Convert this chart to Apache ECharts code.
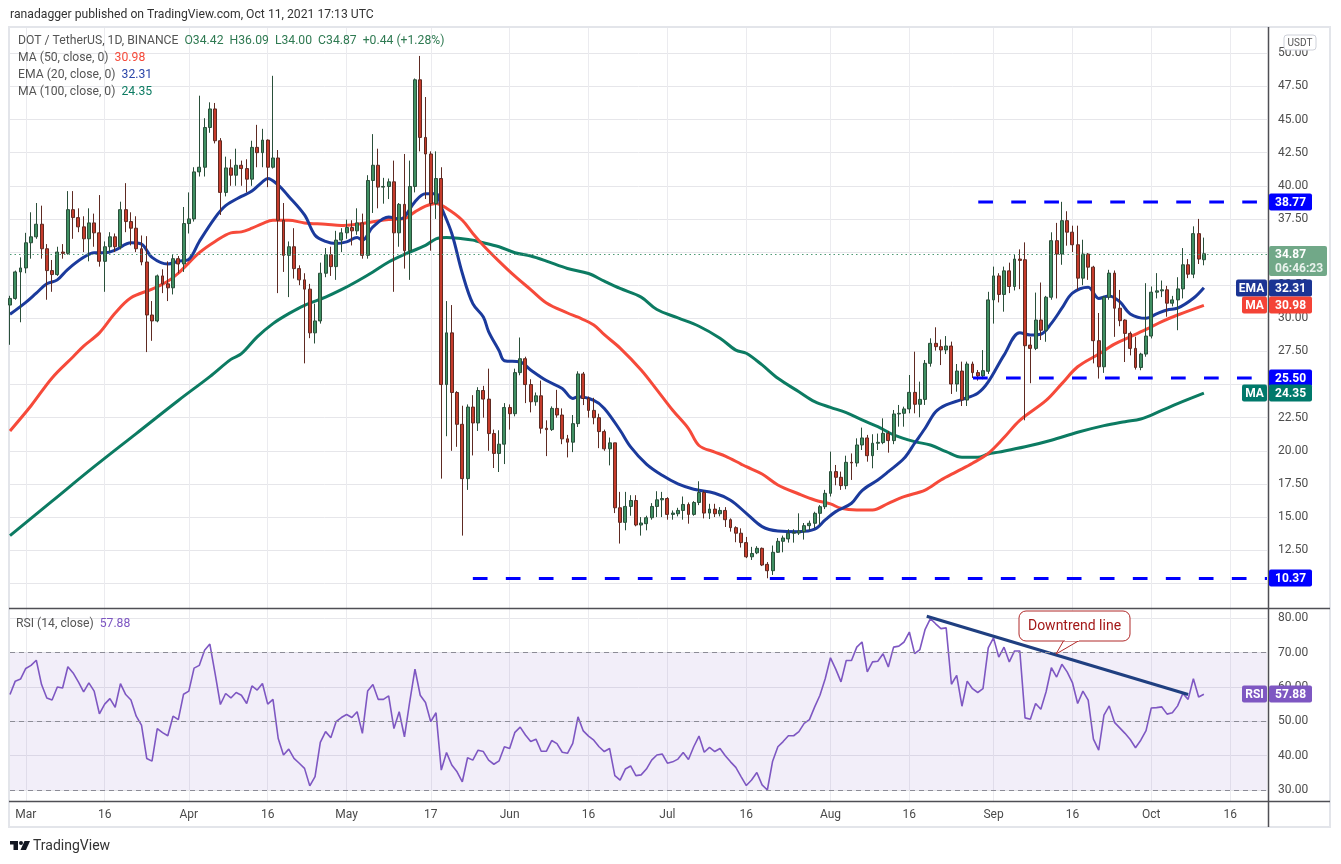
<!DOCTYPE html>
<html>
<head>
<meta charset="utf-8">
<title>DOT / TetherUS</title>
<script src="https://cdn.jsdelivr.net/npm/echarts@6/dist/echarts.min.js"></script>
<style>
  html, body { margin: 0; padding: 0; background: #ffffff; }
  #chart { width: 1341px; height: 864px; }
</style>
</head>
<body>
<div id="chart"></div>
<script>
'use strict';

// day categories, Feb 26 .. Oct 23 2021
const startDay = Date.UTC(2021, 1, 26)
const dates = Array.from({ length: 240 }, (_, i) => new Date(startDay + i * 864e5).toISOString().slice(0, 10))

const tickDates = ['2021-03-01', '2021-03-16', '2021-04-01', '2021-04-16', '2021-05-01', '2021-05-17', '2021-06-01', '2021-06-16',
    '2021-07-01', '2021-07-16', '2021-08-01', '2021-08-16', '2021-09-01', '2021-09-16', '2021-10-01', '2021-10-16']
const tickLabels = ['Mar', '16', 'Apr', '16', 'May', '17', 'Jun', '16', 'Jul', '16', 'Aug', '16', 'Sep', '16', 'Oct', '16']
const priceTicks = [10, 12.5, 15, 17.5, 20, 22.5, 25, 27.5, 30, 32.5, 35, 37.5, 40, 42.5, 45, 47.5, 50]
const rsiTicks = [30, 40, 50, 60, 70, 80]

// [open, close, low, high] per day from Feb 26
const ohlc = [
    [31.0, 31.5, 28.0, 31.7], [31.5, 33.5, 31.4, 33.6], [33.5, 33.8, 29.7, 34.6], [33.8, 35.7, 33.4, 36.45],
    [35.7, 36.15, 34.5, 38.0], [36.15, 37.1, 36.0, 38.7], [37.1, 35.25, 34.5, 38.5], [35.25, 33.6, 31.4, 35.6],
    [33.6, 33.3, 32.0, 34.4], [33.3, 35.0, 33.2, 35.4], [35.0, 34.9, 34.5, 35.6], [34.9, 38.2, 34.8, 39.6],
    [38.2, 37.6, 36.0, 39.6], [37.6, 36.9, 36.5, 38.3], [36.9, 36.0, 35.0, 37.7], [36.0, 37.2, 34.3, 38.3],
    [37.2, 36.45, 35.4, 37.9], [36.45, 34.3, 33.9, 39.3], [34.3, 35.4, 32.0, 35.8], [35.4, 36.15, 35.0, 36.5],
    [36.15, 35.4, 35.0, 36.4], [35.4, 38.2, 35.2, 38.8], [38.2, 37.3, 36.5, 40.2], [37.3, 36.8, 35.5, 38.0],
    [36.8, 35.25, 35.0, 37.7], [35.25, 34.25, 34.0, 36.25], [34.25, 30.25, 27.45, 36.2], [30.25, 29.8, 28.3, 31.3],
    [29.8, 33.2, 29.7, 33.3], [33.2, 32.6, 31.9, 33.7], [32.6, 32.3, 31.3, 34.3], [32.3, 34.5, 31.8, 34.8],
    [34.5, 34.1, 33.4, 34.7], [34.1, 37.15, 33.5, 38.4], [37.15, 37.5, 36.4, 39.5], [37.5, 41.05, 37.3, 41.4],
    [41.05, 41.4, 40.7, 46.8], [41.4, 44.4, 40.7, 45.1], [44.4, 45.8, 44.0, 46.3], [45.8, 43.4, 43.2, 46.25],
    [43.4, 39.5, 37.8, 43.6], [39.5, 41.35, 39.2, 42.2], [41.35, 40.8, 40.0, 42.0], [40.8, 41.55, 40.0, 42.8],
    [41.55, 41.3, 40.0, 41.9], [41.3, 40.5, 39.5, 42.0], [40.5, 42.9, 40.0, 43.4], [42.9, 42.5, 41.4, 44.6],
    [42.5, 43.45, 41.4, 44.3], [43.45, 41.4, 39.9, 43.5], [41.4, 42.1, 41.3, 48.3], [42.1, 37.4, 31.9, 42.7],
    [37.4, 34.75, 33.5, 38.7], [34.75, 35.4, 31.6, 35.8], [35.4, 33.75, 33.0, 36.8], [33.75, 32.9, 32.5, 34.0],
    [32.9, 32.2, 26.6, 33.4], [32.2, 28.9, 28.5, 32.6], [28.9, 29.8, 28.1, 31.1], [29.8, 33.4, 29.6, 34.2],
    [33.4, 34.8, 33.1, 35.3], [34.8, 33.9, 33.2, 35.4], [33.9, 35.9, 32.9, 36.6], [35.9, 36.45, 35.0, 36.8],
    [36.45, 36.85, 36.0, 37.45], [36.85, 36.6, 35.5, 37.4], [36.6, 37.2, 36.3, 38.3], [37.2, 34.75, 34.5, 37.9],
    [34.75, 40.4, 34.5, 40.8], [40.4, 41.55, 37.95, 43.9], [41.55, 39.9, 38.3, 42.8], [39.9, 39.95, 38.65, 40.6],
    [39.95, 40.3, 39.0, 40.55], [40.3, 36.45, 32.0, 41.9], [36.45, 38.6, 35.4, 38.7], [38.6, 35.1, 33.75, 42.4],
    [35.1, 39.95, 32.9, 41.9], [39.95, 48.0, 39.5, 48.1], [48.0, 43.65, 42.6, 49.8], [43.65, 42.4, 39.0, 46.7],
    [42.4, 38.65, 35.1, 42.6], [38.65, 40.55, 37.5, 42.6], [40.55, 25.0, 17.9, 41.4], [25.0, 28.9, 21.1, 31.3],
    [28.9, 24.4, 20.0, 31.0], [24.4, 22.0, 20.3, 24.5], [22.0, 17.9, 13.6, 23.4], [17.9, 23.3, 17.05, 23.5],
    [23.3, 22.1, 19.65, 24.2], [22.1, 24.55, 21.5, 24.8], [24.55, 23.9, 22.5, 24.9], [23.9, 21.3, 20.0, 26.2],
    [21.3, 19.8, 18.7, 21.6], [19.8, 20.5, 18.4, 21.55], [20.5, 23.27, 19.0, 23.6], [23.27, 22.8, 21.6, 23.5],
    [22.8, 25.9, 22.6, 26.2], [25.9, 26.95, 25.7, 28.55], [26.95, 25.0, 23.6, 27.1], [25.0, 23.7, 22.9, 25.4],
    [23.7, 24.15, 23.4, 24.4], [24.15, 21.7, 21.3, 25.3], [21.7, 21.6, 19.6, 22.3], [21.6, 23.2, 21.5, 23.35],
    [23.2, 22.7, 22.5, 24.6], [22.7, 20.9, 20.5, 23.2], [20.9, 20.65, 19.5, 21.2], [20.65, 22.05, 19.9, 22.7],
    [22.05, 25.8, 21.8, 26.0], [25.8, 23.95, 23.45, 25.95], [23.95, 23.05, 22.5, 24.1], [23.05, 22.5, 22.0, 24.0],
    [22.5, 21.45, 20.2, 22.8], [21.45, 20.15, 20.0, 21.6], [20.15, 20.6, 18.9, 21.0], [20.6, 15.7, 15.3, 20.6],
    [15.7, 14.6, 13.0, 16.9], [14.6, 15.8, 14.0, 16.9], [15.8, 16.25, 15.1, 16.65], [16.25, 14.4, 14.3, 16.65],
    [14.4, 14.55, 13.6, 15.0], [14.5, 14.95, 14.0, 15.1], [14.95, 15.8, 14.8, 16.05], [15.8, 16.3, 15.0, 16.95],
    [16.3, 16.4, 15.0, 16.9], [16.4, 15.2, 14.8, 16.5], [15.2, 15.3, 14.8, 15.5], [15.25, 15.5, 15.05, 15.7],
    [15.5, 15.95, 14.8, 16.55], [15.95, 15.2, 14.5, 16.1], [15.2, 16.1, 15.1, 16.2], [16.1, 16.85, 15.9, 17.7],
    [16.85, 15.3, 14.9, 17.0], [15.3, 15.6, 14.85, 16.0], [15.6, 15.25, 15.0, 16.0], [15.25, 15.5, 15.05, 15.75],
    [15.5, 14.8, 14.25, 15.75], [14.8, 14.2, 13.9, 14.9], [14.2, 13.78, 13.1, 14.3], [13.78, 13.07, 12.7, 14.15],
    [13.07, 12.0, 11.9, 13.5], [12.0, 12.25, 11.76, 12.75], [12.3, 12.64, 12.2, 12.8], [12.64, 11.38, 11.3, 12.7],
    [11.43, 10.95, 10.38, 11.6], [10.95, 12.34, 10.63, 12.85], [12.34, 13.17, 12.3, 13.42], [13.17, 13.42, 12.34, 13.6],
    [13.35, 13.78, 13.07, 14.08], [13.78, 13.83, 13.07, 14.08], [13.8, 13.95, 13.65, 15.28], [13.9, 14.35, 13.3, 14.55],
    [14.35, 14.53, 14.0, 14.73], [14.53, 15.28, 14.15, 15.4], [15.28, 15.78, 14.4, 15.9], [15.78, 16.79, 15.6, 17.05],
    [16.79, 18.43, 16.55, 19.94], [18.43, 18.0, 17.4, 18.93], [18.0, 17.37, 17.05, 18.43], [17.37, 19.13, 17.1, 19.63],
    [19.13, 19.08, 17.8, 19.8], [19.08, 20.44, 18.8, 20.94], [20.44, 20.97, 20.06, 21.75], [20.97, 19.63, 19.18, 21.2],
    [19.63, 20.57, 18.68, 21.25], [20.57, 20.64, 20.06, 21.3], [20.62, 21.32, 20.5, 22.45], [21.32, 20.77, 19.86, 21.5],
    [20.77, 22.78, 20.5, 23.08], [22.78, 22.83, 21.82, 23.46], [22.83, 23.16, 21.82, 23.33], [23.16, 24.41, 22.83, 25.72],
    [24.41, 23.51, 22.83, 27.48], [23.51, 23.88, 22.53, 25.22], [23.88, 26.6, 23.46, 26.85], [26.6, 28.11, 26.35, 28.49],
    [28.11, 27.86, 27.56, 29.32], [27.86, 27.61, 26.47, 28.4], [27.61, 27.91, 27.3, 28.66], [27.91, 25.04, 24.29, 28.24],
    [25.04, 26.02, 24.46, 26.55], [26.02, 23.83, 23.38, 26.73], [23.83, 26.55, 23.38, 26.73], [26.55, 25.9, 25.5, 26.73],
    [25.9, 25.65, 25.3, 26.1], [25.65, 26.05, 25.4, 27.6], [26.0, 31.39, 25.8, 32.0], [31.39, 33.2, 29.6, 33.9],
    [33.2, 31.8, 31.2, 33.4], [31.8, 33.58, 30.5, 33.9], [33.58, 32.4, 31.9, 34.2], [32.4, 34.47, 32.1, 34.8],
    [34.47, 34.37, 32.2, 35.2], [34.42, 27.93, 22.3, 35.73], [27.98, 27.73, 25.1, 28.6], [27.73, 29.87, 27.6, 31.94],
    [29.87, 29.1, 28.36, 32.7], [29.1, 31.59, 28.23, 31.69], [31.59, 35.86, 31.4, 36.49], [35.86, 34.85, 31.5, 37.2],
    [34.85, 37.37, 34.04, 38.79], [37.37, 36.5, 35.48, 38.08], [36.5, 35.55, 35.0, 36.99], [35.55, 33.03, 32.14, 36.99],
    [33.03, 34.85, 32.5, 35.93], [34.85, 33.86, 32.9, 34.92], [33.86, 28.31, 26.6, 33.96], [28.31, 26.34, 25.45, 30.4],
    [26.34, 31.59, 25.88, 31.69], [31.59, 33.41, 31.4, 33.66], [33.41, 30.76, 28.6, 33.61], [30.76, 29.82, 29.4, 32.14],
    [29.87, 28.86, 26.7, 29.92], [28.86, 27.73, 27.2, 29.0], [27.73, 26.29, 26.13, 28.61], [26.29, 27.3, 26.08, 27.4],
    [27.3, 28.66, 27.1, 32.65], [28.66, 31.97, 28.48, 32.4], [31.97, 32.07, 31.5, 33.41], [32.07, 32.15, 31.6, 32.85],
    [32.15, 31.14, 30.12, 32.45], [31.14, 31.39, 30.9, 31.69], [31.39, 32.22, 29.1, 33.1], [32.22, 34.04, 31.5, 35.3],
    [34.04, 33.33, 33.03, 34.47], [33.33, 36.39, 33.03, 36.94], [36.39, 34.47, 34.1, 37.5], [34.42, 34.87, 34.0, 36.09]
]

// moving averages: [day index, value]
const ema20 = [[0, 30.3], [3, 31.2], [5, 31.9], [7, 32.6], [9, 32.9], [11, 33.7], [14, 34.6], [16, 34.95], [18, 34.95],
    [20, 35.15], [23, 35.7], [25, 35.6], [27, 34.6], [30, 34.1], [32, 34.3], [34, 34.45], [36, 35.8], [39, 37.6], [41, 38.5],
    [44, 39.2], [46, 39.6], [48, 40.3], [49, 40.55], [51, 40.05], [53, 39.2], [56, 37.8], [58, 36.27], [60, 35.8], [62, 35.64],
    [64, 35.77], [66, 36.1], [67, 35.9], [69, 36.9], [72, 37.65], [74, 37.5], [75, 37.65], [77, 38.8], [79, 39.4], [81, 39.4],
    [82, 38.4], [84, 36.4], [86, 33.4], [88, 31.1], [90, 30.1], [91, 29.0], [93, 27.55], [94, 26.8], [97, 26.7], [99, 26.1],
    [102, 25.3], [105, 24.7], [107, 23.95], [108, 24.07], [111, 23.8], [113, 23.2], [116, 21.55], [118, 20.3], [121, 19.0],
    [124, 18.15], [127, 17.5], [130, 17.1], [134, 16.8], [137, 16.27], [140, 15.28], [143, 14.28], [146, 13.95], [150, 13.9],
    [153, 14.08], [155, 14.78], [157, 15.41], [160, 16.04], [162, 17.0], [165, 17.8], [167, 18.43], [170, 19.43], [172, 20.57],
    [174, 21.7], [176, 22.95], [178, 23.46], [181, 23.88], [184, 24.35], [186, 25.2], [189, 27.22], [192, 28.9], [194, 28.74],
    [196, 28.8], [198, 29.62], [200, 30.76], [202, 31.9], [205, 32.35], [207, 31.5], [209, 31.69], [211, 31.26], [213, 30.33],
    [216, 30.0], [218, 30.33], [220, 30.63], [222, 30.76], [225, 31.51], [227, 32.31]]

const ma50 = [[0, 21.5], [4, 23.4], [8, 25.5], [12, 27.1], [14, 27.9], [17, 28.9], [20, 30.4], [23, 31.55], [27, 32.2],
    [30, 32.8], [32, 33.4], [36, 34.95], [39, 35.8], [42, 36.45], [44, 36.52], [46, 36.8], [48, 37.15], [50, 37.4], [53, 37.4],
    [56, 37.2], [60, 37.1], [63, 37.0], [66, 37.1], [69, 37.28], [72, 37.45], [75, 37.53], [77, 38.03], [79, 38.46], [81, 38.66],
    [83, 38.3], [86, 37.4], [88, 36.4], [90, 35.5], [93, 34.3], [96, 33.18], [99, 32.17], [102, 31.16], [106, 30.4], [108, 30.08],
    [111, 29.5], [113, 28.76], [116, 27.75], [120, 26.1], [123, 24.6], [126, 23.06], [129, 21.68], [131, 20.4], [134, 19.9],
    [136, 19.6], [139, 19.0], [140, 18.8], [143, 18.25], [146, 17.42], [150, 16.74], [153, 16.29], [156, 15.99], [158, 15.66],
    [161, 15.53], [164, 15.53], [167, 16.04], [170, 16.54], [174, 17.04], [177, 17.8], [180, 18.43], [183, 19.06], [186, 19.81],
    [189, 21.0], [192, 22.3], [197, 23.8], [200, 25.07], [203, 26.34], [207, 27.3], [210, 28.05], [213, 28.6], [216, 29.16],
    [219, 29.75], [222, 30.25], [227, 30.98]]

const ma100 = [[0, 13.6], [8, 16.2], [16, 18.8], [24, 21.3], [32, 23.8], [38, 25.6], [42, 26.9], [44, 27.33], [47, 28.6],
    [50, 29.6], [53, 30.35], [56, 30.98], [60, 31.6], [63, 32.16], [66, 32.8], [69, 33.5], [72, 34.25], [75, 34.83], [79, 35.5],
    [81, 36.0], [83, 36.1], [86, 36.0], [88, 35.9], [89, 35.8], [93, 35.4], [96, 34.95], [99, 34.7], [102, 34.32], [106, 33.76],
    [110, 33.38], [113, 32.8], [116, 32.25], [120, 31.6], [123, 30.66], [127, 30.03], [131, 29.4], [135, 28.5], [138, 27.6],
    [140, 27.36], [143, 26.48], [146, 25.47], [150, 24.46], [153, 23.71], [156, 23.28], [159, 22.88], [162, 22.33], [165, 21.82],
    [168, 21.2], [172, 20.69], [175, 20.44], [178, 19.94], [181, 19.51], [184, 19.51], [186, 19.76], [188, 19.9], [193, 20.3],
    [198, 20.8], [203, 21.4], [208, 21.9], [212, 22.2], [215, 22.4], [219, 23.05], [222, 23.56], [227, 24.35]]

// RSI(14) per day from Feb 26
const rsi = [57.8, 61.7, 62.3, 65.4, 66.3, 67.8, 60.7, 56.8, 56.2, 60.0, 59.7, 65.9, 64.1, 61.5, 58.6, 61.2, 58.8, 52.2,
    55.0, 56.6, 54.1, 61.0, 57.8, 56.2, 51.5, 48.9, 39.2, 38.4, 47.9, 46.7, 45.8, 51.5, 50.5, 57.9, 58.8, 65.5, 66.3, 70.7,
    72.5, 63.9, 54.9, 58.1, 56.8, 58.4, 57.6, 55.2, 60.3, 59.1, 61.0, 55.0, 56.4, 45.0, 40.2, 41.9, 39.2, 37.8, 36.3, 31.2,
    33.9, 43.9, 47.0, 45.2, 49.9, 51.1, 52.0, 51.1, 52.8, 46.5, 58.8, 60.7, 56.4, 56.4, 57.4, 47.9, 52.8, 45.5, 55.7, 65.2,
    57.6, 55.5, 49.9, 52.5, 35.8, 40.9, 37.3, 35.3, 32.4, 39.4, 38.7, 41.6, 41.2, 38.7, 37.5, 38.5, 42.6, 42.1, 46.8, 48.3,
    46.0, 44.1, 44.8, 41.3, 41.3, 44.4, 43.5, 41.0, 40.7, 43.6, 51.3, 47.2, 45.7, 44.5, 42.6, 41.2, 42.1, 34.2, 32.9, 36.1,
    37.0, 34.2, 34.4, 36.1, 38.7, 40.2, 40.5, 37.8, 38.2, 39.0, 40.9, 38.9, 42.6, 45.7, 41.0, 42.4, 41.2, 42.1, 40.0, 38.2,
    36.6, 33.9, 31.3, 32.9, 35.1, 31.5, 30.0, 38.4, 42.6, 44.1, 45.8, 45.8, 47.0, 49.4, 50.5, 54.2, 57.6, 62.4, 68.5, 65.2,
    61.5, 67.7, 67.7, 71.6, 73.1, 64.4, 67.3, 67.5, 69.7, 65.8, 71.6, 71.9, 73.1, 76.0, 69.7, 70.9, 76.8, 79.9, 78.4, 77.0,
    77.2, 60.8, 63.4, 54.4, 61.7, 59.5, 58.4, 59.5, 71.4, 74.3, 68.7, 71.6, 67.3, 70.5, 70.5, 51.0, 50.6, 55.2, 53.5, 58.6,
    65.6, 62.9, 66.6, 64.4, 61.3, 55.2, 58.8, 56.2, 44.8, 41.6, 51.8, 54.5, 49.7, 48.1, 46.5, 44.7, 42.3, 44.5, 47.3, 53.9,
    54.0, 54.2, 52.1, 52.5, 54.5, 58.1, 56.4, 62.4, 57.1, 57.88]

// drawn levels: [start day index, price]
const levels = [[184.1, 38.77], [183.1, 25.50], [88.0, 10.37]]
const downtrend = [[174.3, 80.6], [224.0, 57.8]]
const lastPrice = 34.87

const FONT = 'Roboto, "Noto Sans", sans-serif'
const GL = 10, GW = 1257, GR = GL + GW
const PTOP = 28, PH = 580, RTOP = 608, RH = 193
const N = dates.length - 1

const container = document.getElementById('chart')
const myChart = echarts.init(container, null, { renderer: 'canvas' })

const isTick = (i) => tickDates.indexOf(dates[i]) >= 0
const vline = { show: true, interval: (i) => isTick(i), lineStyle: { color: '#ebebef', width: 1 } }
const hline = { show: true, lineStyle: { color: '#e6e6ea', width: 1 } }

const maLine = (name, data, color) => ({
    name: name,
    type: 'line',
    xAxisIndex: 2,
    yAxisIndex: 0,
    data: data,
    smooth: 0.35,
    symbol: 'none',
    lineStyle: { color: color, width: 3 },
    z: 3
})

const option = {
    animation: false,
    backgroundColor: '#ffffff',
    textStyle: { fontFamily: FONT },
    grid: [
        { left: GL, top: PTOP, width: GW, height: PH },
        { left: GL, top: RTOP, width: GW, height: RH }
    ],
    xAxis: [{
        type: 'category', gridIndex: 0, data: dates, boundaryGap: false,
        axisLine: { show: false }, axisTick: { show: false }, axisLabel: { show: false },
        splitLine: vline
    }, {
        type: 'category', gridIndex: 1, data: dates, boundaryGap: false,
        axisLine: { show: false }, axisTick: { show: false },
        axisLabel: {
            interval: (i) => isTick(i),
            formatter: (v) => tickLabels[tickDates.indexOf(v)] || '',
            color: '#4a4a4a', fontSize: 12, margin: 8, fontFamily: FONT
        },
        splitLine: vline
    }, {
        type: 'value', gridIndex: 0, min: 0, max: N, show: false
    }, {
        type: 'value', gridIndex: 1, min: 0, max: N, show: false
    }],
    yAxis: [{
        type: 'value', gridIndex: 0, position: 'right', scale: true,
        min: 8.136, max: 51.909,
        axisLine: { show: false },
        axisTick: { show: false, customValues: priceTicks },
        axisLabel: {
            customValues: priceTicks.slice(1),
            formatter: (v) => v.toFixed(2),
            color: '#4d4d4d', fontSize: 12, margin: 11, fontFamily: FONT
        },
        splitLine: hline
    }, {
        type: 'value', gridIndex: 1, position: 'right',
        min: 26.8, max: 83.0,
        axisLine: { show: false },
        axisTick: { show: false, customValues: rsiTicks },
        axisLabel: {
            customValues: rsiTicks,
            formatter: (v) => v.toFixed(2),
            color: '#4d4d4d', fontSize: 12, margin: 11, fontFamily: FONT
        },
        splitLine: hline
    }],
    series: [
        maLine('MA100', ma100, '#0c7b62'),
        maLine('MA50', ma50, '#f64a3a'),
        maLine('EMA20', ema20, '#1b3a9c'),
        {
            name: 'DOT',
            type: 'candlestick',
            xAxisIndex: 0,
            yAxisIndex: 0,
            data: ohlc,
            barWidth: 3.4,
            z: 4,
            itemStyle: {
                color: '#3f8f62', color0: '#c53b2b',
                borderColor: '#2a4f3a', borderColor0: '#5e2a22', borderWidth: 1
            },
            markLine: {
                silent: true, symbol: 'none', animation: false,
                label: { show: false },
                lineStyle: { color: '#4e9a74', type: [1.5, 3], width: 1 },
                data: [{ yAxis: lastPrice }]
            }
        },
        ...levels.map((lv) => ({
            name: 'level ' + lv[1],
            type: 'line',
            xAxisIndex: 2,
            yAxisIndex: 0,
            data: [[lv[0], lv[1]], [N, lv[1]]],
            symbol: 'none',
            lineStyle: { color: '#0000ff', width: 3, type: [14.7, 18.3], cap: 'butt' },
            z: 5
        })),
        {
            name: 'RSI',
            type: 'line',
            xAxisIndex: 1,
            yAxisIndex: 1,
            data: rsi,
            symbol: 'none',
            lineStyle: { color: '#7e57c2', width: 1.6 },
            z: 3,
            markArea: {
                silent: true,
                itemStyle: { color: 'rgba(126, 87, 194, 0.1)' },
                data: [[{ yAxis: 30 }, { yAxis: 70 }]]
            },
            markLine: {
                silent: true, symbol: 'none', animation: false,
                label: { show: false },
                lineStyle: { color: '#8c8c96', type: [5, 4], width: 1 },
                data: [{ yAxis: 30 }, { yAxis: 50 }, { yAxis: 70 }]
            }
        },
        {
            name: 'Downtrend',
            type: 'line',
            xAxisIndex: 3,
            yAxisIndex: 1,
            data: downtrend,
            symbol: 'none',
            lineStyle: { color: '#1f3f80', width: 3 },
            z: 4
        }
    ]
}

myChart.setOption(option)

// frame, pane separators, texts and axis tags
const py = (v) => myChart.convertToPixel({ yAxisIndex: 0 }, v)
const ry = (v) => myChart.convertToPixel({ yAxisIndex: 1 }, v)

// graphic children do not take the group's z, so set it on each
const lift = (el, z) => {
    el.z = z
    if (el.children) el.children.forEach((c) => lift(c, z))
    return el
}

const tag = (y, text, bg, x, w) => ({
    type: 'group', children: [
        { type: 'rect', shape: { x: x, y: Math.round(y) - 8.5, width: w, height: 17, r: 2 }, style: { fill: bg } },
        {
            type: 'text', x: x + w / 2, y: Math.round(y) + 0.5,
            style: { text: text, fill: '#ffffff', font: 'bold 12px ' + FONT, align: 'center', verticalAlign: 'middle' }
        }
    ]
})

const txt = (x, y, parts) => ({
    type: 'text', x: x, y: y,
    style: { text: parts, rich: rich, font: '12.2px ' + FONT, verticalAlign: 'middle', fill: '#4a4a4a' }
})

const rf = '12.2px ' + FONT
const rich = {
    g: { fill: '#555555', font: rf },
    k: { fill: '#2f7a52', font: rf },
    r: { fill: '#f64a3a', font: rf },
    b: { fill: '#2a45a8', font: rf },
    t: { fill: '#0c7b62', font: rf },
    p: { fill: '#7e57c2', font: rf }
}

const lp = py(lastPrice)
const graphics = [
    { type: 'rect', z: 1, silent: true, shape: { x: 9, y: 27, width: 1321, height: 800 }, style: { fill: 'none', stroke: '#e3e5ea', lineWidth: 2 } },
    lift({ type: 'line', shape: { x1: 9, y1: RTOP + 0.5, x2: 1330, y2: RTOP + 0.5 }, style: { stroke: '#4f4f55', lineWidth: 1.5 } }, 40),
    lift({ type: 'line', shape: { x1: 9, y1: RTOP + RH + 0.5, x2: 1330, y2: RTOP + RH + 0.5 }, style: { stroke: '#4f4f55', lineWidth: 1.5 } }, 40),
    lift({ type: 'line', shape: { x1: GR + 1.5, y1: 27, x2: GR + 1.5, y2: 827 }, style: { stroke: '#4f4f55', lineWidth: 1.5 } }, 40),
    lift({
        type: 'text', x: 10, y: 15,
        style: { text: 'ranadagger published on TradingView.com, Oct 11, 2021 17:13 UTC', font: '12.2px ' + FONT, fill: '#333333', verticalAlign: 'middle' }
    }, 50),
    lift(txt(18, 41, '{g|DOT / TetherUS, 1D, BINANCE}  {k|O34.42}  {k|H36.09}  {k|L34.00}  {k|C34.87}  {k|+0.44 (+1.28%)}'), 50),
    lift(txt(18, 58, '{g|MA (50, close, 0)}  {r|30.98}'), 50),
    lift(txt(18, 75, '{g|EMA (20, close, 0)}  {b|32.31}'), 50),
    lift(txt(18, 92, '{g|MA (100, close, 0)}  {t|24.35}'), 50),
    lift(txt(16, 624, '{g|RSI (14, close)}  {p|57.88}'), 50),
    // USDT unit box
    lift({ type: 'rect', shape: { x: 1284, y: 35, width: 32, height: 15, r: 3 }, style: { fill: '#ffffff', stroke: '#cfd2da', lineWidth: 1 } }, 60),
    lift({ type: 'text', x: 1300, y: 43, style: { text: 'USDT', font: '10px ' + FONT, fill: '#555555', align: 'center', verticalAlign: 'middle' } }, 61),
    // current price box
    lift({
        type: 'group', children: [
            { type: 'rect', shape: { x: GR + 2, y: Math.round(lp) - 8, width: 58, height: 30, r: 2 }, style: { fill: '#71a888' } },
            { type: 'text', x: GR + 8, y: Math.round(lp) + 1, style: { text: '34.87', fill: '#ffffff', font: 'bold 12px ' + FONT, verticalAlign: 'middle' } },
            { type: 'text', x: GR + 8, y: Math.round(lp) + 15, style: { text: '06:46:23', fill: '#e8f2ec', font: 'bold 12px ' + FONT, verticalAlign: 'middle' } }
        ]
    }, 60),
    lift(tag(py(38.77), '38.77', '#0000ff', GR + 2, 43), 60),
    lift(tag(py(32.31), 'EMA', '#1b3494', GR - 31, 31), 60),
    lift(tag(py(32.31), '32.31', '#1b3494', GR + 2, 43), 60),
    lift(tag(py(30.98), 'MA', '#f44336', GR - 25, 25), 61),
    lift(tag(py(30.98), '30.98', '#f44336', GR + 2, 43), 61),
    lift(tag(py(25.50), '25.50', '#0000ff', GR + 2, 43), 60),
    lift(tag(py(24.35), 'MA', '#00796b', GR - 25, 25), 61),
    lift(tag(py(24.35), '24.35', '#00796b', GR + 2, 43), 61),
    lift(tag(py(10.37), '10.37', '#0000ff', GR + 2, 43), 60),
    lift(tag(ry(57.88), 'RSI', '#7e57c2', GR - 25, 25), 60),
    lift(tag(ry(57.88), '57.88', '#7e57c2', GR + 2, 43), 60),
    // callout
    lift({
        type: 'group', children: [
            { type: 'polygon', shape: { points: [[1064, 640], [1056, 654], [1080, 640]] }, style: { fill: '#ffffff', stroke: '#b02a2a', lineWidth: 1 } },
            { type: 'rect', shape: { x: 1019, y: 611, width: 111, height: 30, r: 7 }, style: { fill: '#ffffff', stroke: '#b02a2a', lineWidth: 1 } }
        ]
    }, 60),
    lift({ type: 'rect', shape: { x: 1065, y: 638, width: 14, height: 3 }, style: { fill: '#ffffff' } }, 61),
    lift({ type: 'text', x: 1074.5, y: 626, style: { text: 'Downtrend line', fill: '#a31818', font: '14px ' + FONT, align: 'center', verticalAlign: 'middle' } }, 62),
    // TradingView logo
    lift({
        type: 'group', children: [
            { type: 'rect', shape: { x: 10, y: 841, width: 8, height: 3.5 }, style: { fill: '#131722' } },
            { type: 'rect', shape: { x: 13.5, y: 841, width: 4.5, height: 9 }, style: { fill: '#131722' } },
            { type: 'circle', shape: { cx: 21, cy: 843, r: 2 }, style: { fill: '#131722' } },
            { type: 'polygon', shape: { points: [[24.5, 841], [30, 841], [26, 850], [20.5, 850]] }, style: { fill: '#131722' } },
            { type: 'text', x: 33, y: 846, style: { text: 'TradingView', fill: '#333333', font: '14px ' + FONT, verticalAlign: 'middle' } }
        ]
    }, 50)
]

myChart.setOption({ graphic: graphics })
</script>
</body>
</html>
